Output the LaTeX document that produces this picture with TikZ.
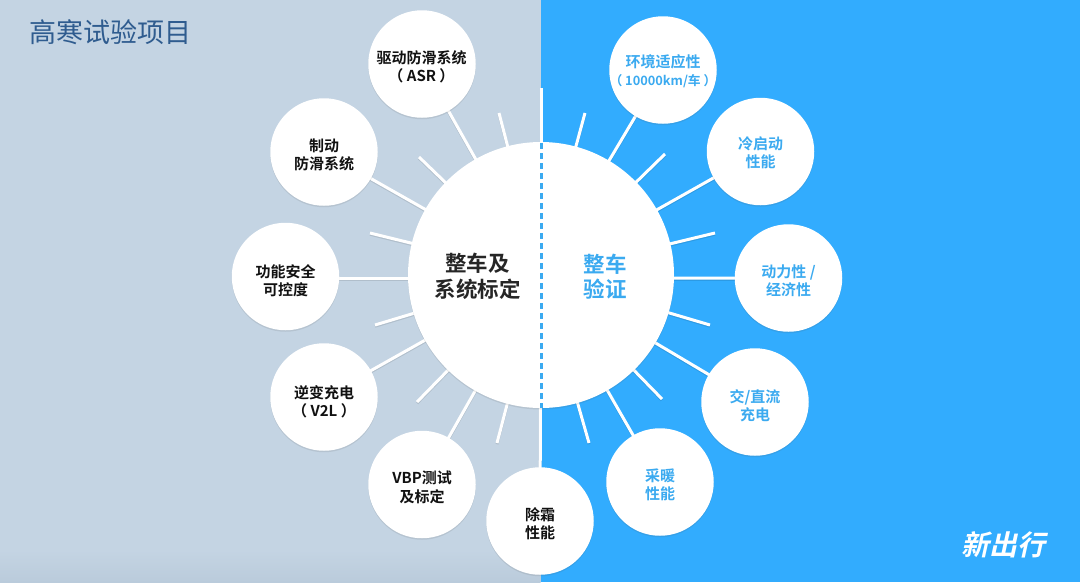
\documentclass[tikz,border=0pt]{standalone}
\usepackage{fontspec}
\setmainfont{Noto Sans CJK SC}
\newfontfamily\cjkbold{Noto Sans CJK SC Bold}
\usetikzlibrary{shadows}
\definecolor{leftbg}{HTML}{C4D4E3}
\definecolor{leftbot}{HTML}{BACBDB}
\definecolor{rightbg}{HTML}{32ACFE}
\definecolor{titleblue}{HTML}{2F5C8F}
\definecolor{textblue}{HTML}{3BAAF0}
\definecolor{textblack}{HTML}{111111}
\tikzset{
  x=1pt,y=-1pt,
  softshadow/.style={drop shadow={shadow xshift=0pt,shadow yshift=-1.5pt,opacity=.12,fill=black!70}},
  sat/.style={circle,fill=white,minimum size=107.5pt,inner sep=0pt,softshadow},
  sattext/.style={align=center,inner sep=0pt,font=\cjkbold\fontsize{15}{18.3}\selectfont},
  satl/.style={sattext,text=textblack},
  satr/.style={sattext,text=textblue},
  hubshape/.style={circle,fill=white,minimum size=266pt,inner sep=0pt,softshadow},
  spoke/.style={draw=white,line width=3pt},
  spokeshadow/.style={draw=black,opacity=.10,line width=3pt,transform canvas={yshift=-1.2pt}},
  hubtext/.style={align=center,inner sep=0pt,font=\cjkbold\fontsize{21.5}{25.5}\selectfont},
}
\begin{document}
\begin{tikzpicture}
\useasboundingbox (0,0) rectangle (1080,582);
\fill[leftbg] (0,0) rectangle (540.5,582);
\shade[top color=leftbg,bottom color=leftbot,draw=none] (0,550) rectangle (540.5,582);
\fill[rightbg] (540.5,0) rectangle (1080,582);

% free ends of the short spokes
\coordinate (e1) at (499,113);
\coordinate (e2) at (419,157);
\coordinate (e3) at (370,233);
\coordinate (e4) at (375,325);
\coordinate (e5) at (417,402);
\coordinate (e6) at (497,443);
\coordinate (e7) at (585,113);
\coordinate (e8) at (665,154);
\coordinate (e9) at (715,233);
\coordinate (e10) at (710,325);
\coordinate (e11) at (662,399);
\coordinate (e12) at (589,443);
\coordinate (topend) at (541,88);

\coordinate (hubc) at (541,275);
\coordinate (hubh) at (541,278.5);
\coordinate (c1) at (422,64);
\coordinate (c2) at (324,152);
\coordinate (c3) at (285.5,276.5);
\coordinate (c3s) at (285.5,278.5);
\coordinate (c4) at (324,397);
\coordinate (c5) at (422,484.5);
\coordinate (c6) at (540,521);
\coordinate (c7) at (663,70);
\coordinate (c8) at (760.5,151.5);
\coordinate (c9) at (788.5,278);
\coordinate (c10) at (755,402);
\coordinate (c11) at (660,482);

\foreach \t in {e1,e2,e3,e4,e5,e6,e7,e8,e9,e10,e11,e12,topend,c1,c2,c4,c5,c6,c7,c8,c10,c11}{
  \draw[spokeshadow] (hubc) -- (\t);
}
\draw[spokeshadow] (hubh) -- (c3s);
\draw[spokeshadow] (hubh) -- (c9);
\foreach \t in {e1,e2,e3,e4,e5,e6,e7,e8,e9,e10,e11,e12,topend,c1,c2,c4,c5,c6,c7,c8,c10,c11}{
  \draw[spoke] (hubc) -- (\t);
}
\draw[spoke] (hubh) -- (c3s);
\draw[spoke] (hubh) -- (c9);

\node[hubshape] (hub) at (hubc) {};
\draw[draw=textblue,line width=3pt,dash pattern=on 6pt off 4pt] (541,143) -- (541,408);

\node[sat] (s1) at (c1) {};
\node[sat] (s2) at (c2) {};
\node[sat] (s3) at (c3) {};
\node[sat] (s4) at (c4) {};
\node[sat] (s5) at (c5) {};
\node[sat] (s6) at (c6) {};
\node[sat] (s7) at (c7) {};
\node[sat] (s8) at (c8) {};
\node[sat] (s9) at (c9) {};
\node[sat] (s10) at (c10) {};
\node[sat] (s11) at (c11) {};

\node[satl] (t1) at ([shift={(-0.5pt,-3pt)}]c1) {驱动防滑系统\\（ ASR ）};
\node[satl] (t2) at ([yshift=-3pt]c2) {制动\\防滑系统};
\node[satl] (t3) at ([yshift=-4pt]c3) {功能安全\\可控度};
\node[satl] (t4) at ([yshift=-4.5pt]c4) {逆变充电\\（ V2L ）};
\node[satl] (t5) at ([yshift=-3pt]c5) {VBP测试\\及标定};
\node[satl] (t6) at ([yshift=-3pt]c6) {除霜\\性能};
\node[satr] (t7) at ([yshift=-1pt]c7) {环境适应性\\{\fontsize{12.8}{18}\selectfont （ 10000km/车 ）}};
\node[satr] (t8) at ([yshift=-1.5pt]c8) {冷启动\\性能};
\node[satr] (t9) at ([yshift=-3pt]c9) {动力性 /\\经济性};
\node[satr] (t10) at ([yshift=-4pt]c10) {交/直流\\充电};
\node[satr] (t11) at ([yshift=-3pt]c11) {采暖\\性能};

\node[hubtext,text=black!85] (hl) at (477.5,276.5) {整车及\\系统标定};
\node[hubtext,text=textblue] (hr) at (605,276.5) {整车\\验证};

\node[text=titleblue,font=\fontsize{27}{30}\selectfont,inner sep=0pt] (title) at (110.5,32) {高寒试验项目};
\node[text=white,font=\cjkbold\fontsize{28}{30}\selectfont,inner sep=0pt,xslant=.22,transform shape] (logo) at (1006,545) {新出行};
\end{tikzpicture}
\end{document}
